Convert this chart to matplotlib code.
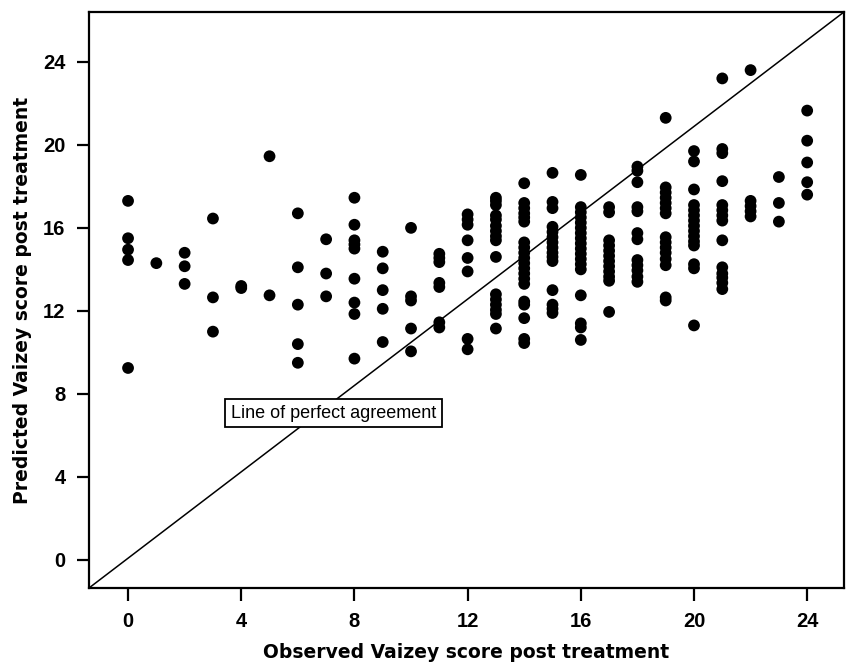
import matplotlib
matplotlib.use("Agg")
import matplotlib.pyplot as plt

# Observed score (x) -> list of predicted scores (y)
observed = list(range(25))
predicted = [
    [17.3, 15.5, 14.95, 14.45, 9.25],                       # 0
    [14.3],                                                 # 1
    [14.8, 14.15, 13.3],                                    # 2
    [16.45, 12.65, 11.0],                                   # 3
    [13.2, 13.1],                                           # 4
    [19.45, 12.75],                                         # 5
    [16.7, 14.1, 12.3, 10.4, 9.5],                          # 6
    [15.45, 13.8, 12.7],                                    # 7
    [17.45, 16.15, 15.4, 15.2, 15.0, 13.55, 12.4, 11.85, 9.7],  # 8
    [14.85, 14.05, 13.0, 12.1, 10.5],                       # 9
    [16.0, 12.7, 12.5, 11.15, 10.05],                       # 10
    [14.75, 14.55, 14.35, 13.35, 13.15, 11.45, 11.2],       # 11
    [16.65, 16.4, 16.15, 15.4, 14.55, 13.9, 10.65, 10.15],  # 12
    [17.45, 17.3, 17.1, 16.6, 16.4, 16.1, 15.85, 15.6, 15.4, 14.6,
     12.8, 12.55, 12.3, 12.05, 11.85, 11.15],               # 13
    [18.15, 17.2, 16.95, 16.7, 16.5, 16.3, 15.3, 15.05, 14.8, 14.55,
     14.3, 14.05, 13.8, 13.55, 13.3, 12.45, 12.3, 11.65, 10.65, 10.45],  # 14
    [18.65, 17.25, 16.95, 16.05, 15.8, 15.55, 15.3, 15.05, 14.8, 14.6,
     14.4, 13.0, 12.3, 12.1, 11.9],                         # 15
    [18.55, 17.0, 16.75, 16.5, 16.25, 16.0, 15.75, 15.5, 15.25, 15.0,
     14.75, 14.5, 14.25, 14.0, 12.75, 11.4, 11.2, 10.6],    # 16
    [17.0, 16.75, 15.4, 15.15, 14.9, 14.65, 14.4, 14.15, 13.9, 13.65,
     13.45, 11.95],                                         # 17
    [18.95, 18.75, 18.2, 17.0, 16.8, 15.75, 15.45, 14.45, 14.2, 13.95,
     13.65, 13.4],                                          # 18
    [21.3, 17.95, 17.7, 17.45, 17.2, 16.95, 16.7, 15.55, 15.3, 15.05,
     14.8, 14.5, 14.2, 12.65, 12.5],                        # 19
    [19.7, 19.2, 17.85, 17.1, 16.85, 16.6, 16.35, 16.1, 15.85, 15.6,
     15.35, 15.15, 14.25, 14.05, 11.3],                     # 20
    [23.2, 19.8, 19.6, 18.25, 17.1, 16.85, 16.6, 16.35, 15.4, 14.1,
     13.8, 13.6, 13.35, 13.05],                             # 21
    [23.6, 17.3, 17.05, 16.8, 16.55],                       # 22
    [18.45, 17.2, 16.3],                                    # 23
    [21.65, 20.2, 19.15, 18.2, 17.6],                       # 24
]
x_ticks = [0, 4, 8, 12, 16, 20, 24]
y_ticks = [0, 4, 8, 12, 16, 20, 24]
x_label = "Observed Vaizey score post treatment"
y_label = "Predicted Vaizey score post treatment"
line_label = "Line of perfect agreement"

xs, ys = [], []
for ob, preds in zip(observed, predicted):
    for p in preds:
        xs.append(ob)
        ys.append(p)

plt.rcParams['font.family'] = ['Liberation Sans', 'DejaVu Sans']

fig = plt.figure(figsize=(8.46, 6.70), dpi=100)
ax = fig.add_axes([0.1052, 0.1224, 0.8924, 0.8597])

ax.scatter(xs, ys, s=72, color='black', edgecolors='none', zorder=3)
ax.plot([0, 1], [0, 1], transform=ax.transAxes, color='black', lw=1.1, zorder=2)

ax.set_xlim(-1.38, 25.3)
ax.set_ylim(-1.35, 26.4)
ax.set_xticks(x_ticks)
ax.set_yticks(y_ticks)
ax.tick_params(direction='out', length=9, width=1.6, labelsize=14.5, pad=8)
for lab in ax.get_xticklabels() + ax.get_yticklabels():
    lab.set_fontweight('bold')
for sp in ax.spines.values():
    sp.set_linewidth(1.6)

ax.set_xlabel(x_label, fontsize=13.5, fontweight='bold', labelpad=9,
              family=['DejaVu Sans'])
ax.set_ylabel(y_label, fontsize=13.5, fontweight='bold', labelpad=8,
              family=['DejaVu Sans'])

ax.text(7.26, 7.08, line_label, ha='center', va='center', fontsize=13,
        family=['Liberation Sans', 'DejaVu Sans'],
        bbox=dict(boxstyle='square,pad=0.3', fc='white', ec='black', lw=1.3), zorder=4)

fig.savefig("out.png", dpi=100)
